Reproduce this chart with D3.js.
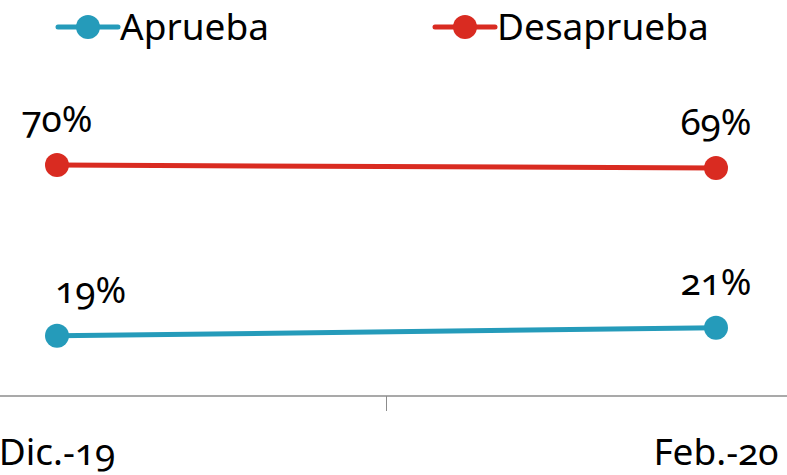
<!DOCTYPE html>
<html lang="es">
<head>
<meta charset="utf-8">
<script src="https://cdn.jsdelivr.net/npm/d3@7"></script>
<style>
  html, body { margin: 0; padding: 0; background: #fff; }
  svg { display: block; }
  text { font-family: "Noto Sans", "Lato", sans-serif; font-variant-numeric: oldstyle-nums; font-feature-settings: "onum" 1; fill: #000; }
</style>
</head>
<body>
<svg id="chart" width="787" height="475" lang="es" xml:lang="es"></svg>
<script>
// ---- data ----
const categories = ["Dic.-19", "Feb.-20"];
const seriesNames = ["Aprueba", "Desaprueba"];
const apruebaValues = [19.0, 21.4];
const desapruebaValues = [70.0, 69.1];
const apruebaLabels = ["19%", "21%"];
const desapruebaLabels = ["70%", "69%"];
const seriesColors = ["#259bba", "#d92b21"];

const W = 787, H = 475;
const FS = 37;
const svg = d3.select("#chart");

const x = d3.scaleBand().domain(categories).range([-272.5, 1045.5]).paddingInner(0).paddingOuter(0);
const cx = d => x(d) + x.bandwidth() / 2;
const y = d3.scaleLinear().domain([0, 100]).range([399.5, 64.5]);

const series = [
  { name: seriesNames[0], values: apruebaValues, labels: apruebaLabels, color: seriesColors[0] },
  { name: seriesNames[1], values: desapruebaValues, labels: desapruebaLabels, color: seriesColors[1] }
];

// axis
const axisY = 396;
svg.append("line").attr("x1", 0).attr("x2", W).attr("y1", axisY).attr("y2", axisY)
  .attr("stroke", "#8c8c8c").attr("stroke-width", 1.5);
const bounds = categories.slice(1).map(c => x(c));
svg.selectAll(".tick").data(bounds).enter().append("line")
  .attr("x1", d => d).attr("x2", d => d).attr("y1", axisY).attr("y2", axisY + 15)
  .attr("stroke", "#8c8c8c").attr("stroke-width", 1);
svg.selectAll(".xlab").data(categories).enter().append("text")
  .attr("x", d => cx(d)).attr("y", 465)
  .attr("text-anchor", "middle").attr("font-size", FS)
  .text(d => d);

// lines
const line = d3.line().x((d, i) => cx(categories[i])).y(d => y(d));
series.forEach((s, si) => {
  svg.append("path").datum(s.values).attr("d", line)
    .attr("fill", "none").attr("stroke", s.color).attr("stroke-width", 5);
  svg.selectAll(".pt" + si).data(s.values).enter().append("circle")
    .attr("cx", (d, i) => cx(categories[i])).attr("cy", d => y(d)).attr("r", 12)
    .attr("fill", s.color);
  svg.selectAll(".lb" + si).data(s.values).enter().append("text")
    .attr("x", (d, i) => (si === 0 && i === 0) ? cx(categories[i]) - 2 : cx(categories[i]))
    .attr("y", d => y(d) - 33)
    .attr("text-anchor", (d, i) => (si === 0 && i === 0) ? "start" : "middle")
    .attr("font-size", FS)
    .text((d, i) => s.labels[i]);
});

// legend
const legendX = [58, 435];
series.forEach((s, si) => {
  const g = svg.append("g").attr("transform", `translate(${legendX[si]},27)`);
  g.append("line").attr("x1", 0).attr("x2", 60).attr("y1", 0).attr("y2", 0)
    .attr("stroke", s.color).attr("stroke-width", 5).attr("stroke-linecap", "round");
  g.append("circle").attr("cx", 30).attr("cy", 0).attr("r", 12).attr("fill", s.color);
  g.append("text").attr("x", 62).attr("y", 13).attr("font-size", FS).text(s.name);
});
</script>
</body>
</html>
